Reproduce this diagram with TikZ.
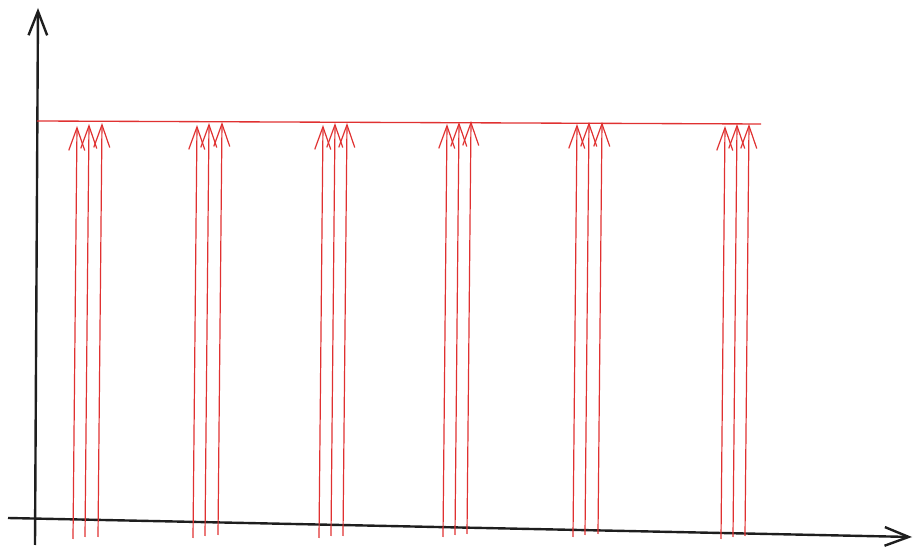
\documentclass[tikz,border=0pt]{standalone}
\usetikzlibrary{arrows.meta}
\definecolor{PenRed}{RGB}{224,49,49}
\definecolor{PenBlack}{RGB}{30,30,30}

\begin{document}
\begin{tikzpicture}[x=0.75pt,y=-0.75pt,
  axis/.style={draw=PenBlack,line width=1.8pt,
               -{Straight Barb[length=18pt,width=14pt,line width=1.8pt]}},
  ray/.style={draw=PenRed,line width=0.9pt,
              -{Straight Barb[length=17pt,width=12pt,line width=0.9pt]}},
  level/.style={draw=PenRed,line width=1pt},
]
\useasboundingbox (0,0) rectangle (922,555);
% axes
\coordinate (ybot) at (35,545);
\coordinate (ytop) at (38,8);
\coordinate (xleft) at (8,518);
\coordinate (xright) at (912,537);
\draw[axis] (ybot) -- (ytop);
\draw[axis] (xleft) -- (xright);
% level line
\coordinate (lvlA) at (37,121);
\coordinate (lvlB) at (761,124);
\draw[level] (lvlA) -- (lvlB);
% groups of rays
\foreach \bx/\by/\tx/\ty [count=\i] in {
  73/539/77/126, 85/537/89/124, 98/537/102/123,
  193/538/197/125, 205/536/209/123, 218/535/222/122,
  319/538/323/125, 331/536/335/123, 343/536/347/123,
  443/537/447/124, 455/535/459/122, 467/534/471/121,
  573/537/577/124, 585/535/589/122, 598/534/602/122,
  721/539/725/126, 733/537/737/124, 745/536/749/124}{
  \coordinate (rb\i) at (\bx,\by);
  \coordinate (rt\i) at (\tx,\ty);
  \draw[ray] (rb\i) -- (rt\i);
}
\end{tikzpicture}
\end{document}
